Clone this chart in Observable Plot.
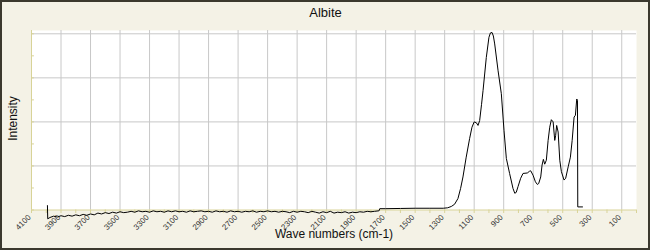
<!DOCTYPE html>
<html>
<head>
<meta charset="utf-8">
<script src="https://cdn.jsdelivr.net/npm/d3@7"></script>
<script src="https://cdn.jsdelivr.net/npm/@observablehq/plot@0.6"></script>
<style>
html, body { margin: 0; padding: 0; background: #f4f2e6; }
#chart svg { display: block; background: #f4f2e6; outline: 2px solid #3b392e; outline-offset: -2px; }
</style>
</head>
<body>
<div id="chart"></div>
<script>
const title = "Albite";
const xLabel = "Wave numbers (cm-1)";
const yLabel = "Intensity";

// x tick labels (every 200 cm-1) and gridline positions
const xTickLabels = [4100, 3900, 3700, 3500, 3300, 3100, 2900, 2700, 2500, 2300, 2100, 1900, 1700, 1500, 1300, 1100, 900, 700, 500, 300, 100];
const xGrid = [3900, 3700, 3500, 3300, 3100, 2900, 2700, 2500, 2300, 2100, 1900, 1700, 1500, 1300, 1100, 900, 700, 500, 300, 100];
const xMinorTicks = d3.range(0, 4101, 100);
const yGrid = [1, 2, 3, 4];
const yMinorTicks = [0, 0.5, 1, 1.5, 2, 2.5, 3, 3.5, 4];

// spectrum: wave numbers (cm-1) and intensity (arbitrary units)
const wavenumbers = [
  3992, 3990, 3975, 3950, 3925, 3900, 3875, 3850, 3825, 3800, 3775, 3750, 3725, 3700, 3675, 3650,
  3625, 3600, 3575, 3550, 3525, 3500, 3475, 3450, 3425, 3400, 3375, 3350, 3325, 3300, 3275, 3250,
  3225, 3200, 3175, 3150, 3125, 3100, 3075, 3050, 3025, 3000, 2975, 2950, 2925, 2900, 2875, 2850,
  2825, 2800, 2775, 2750, 2725, 2700, 2675, 2650, 2625, 2600, 2575, 2550, 2525, 2500, 2475, 2450,
  2425, 2400, 2375, 2350, 2325, 2300, 2275, 2250, 2225, 2200, 2175, 2150, 2125, 2100, 2075, 2050,
  2025, 2000, 1975, 1950, 1925, 1900, 1875, 1850, 1825, 1800, 1775, 1750, 1745, 1740, 1700, 1600,
  1500, 1400, 1310, 1280, 1255, 1233, 1210, 1192, 1176, 1154, 1131, 1115, 1100, 1085, 1074, 1063,
  1050, 1040, 1018, 1000, 990, 979, 970, 961, 938, 916, 898, 882, 860, 837, 825, 815,
  803, 785, 769, 740, 725, 717, 701, 685, 672, 663, 649, 640, 631, 622, 611, 599,
  588, 577, 565, 554, 548, 541, 531, 520, 509, 491, 480, 463, 448, 436, 423, 414,
  405, 400, 398, 366
];
const intensity = [
  0.10, -0.20, -0.17, -0.14, -0.16, -0.13, -0.15, -0.12, -0.14, -0.11, -0.13, -0.10, -0.12, -0.09, -0.11, -0.07,
  -0.09, -0.06, -0.08, -0.05, -0.07, -0.04, -0.06, -0.05, -0.03, -0.05, -0.02, -0.04, -0.03, -0.05, -0.02, -0.04,
  -0.03, -0.05, -0.02, -0.04, -0.02, -0.04, -0.03, -0.05, -0.02, -0.04, -0.03, -0.02, -0.04, -0.03, -0.05, -0.02,
  -0.04, -0.03, -0.05, -0.02, -0.04, -0.03, -0.05, -0.03, -0.04, -0.02, -0.05, -0.03, -0.04, -0.02, -0.04, -0.03,
  -0.05, -0.03, -0.04, -0.06, -0.03, -0.05, -0.03, -0.04, -0.06, -0.03, -0.05, -0.07, -0.04, -0.06, -0.03, -0.07,
  -0.05, -0.06, -0.04, -0.07, -0.05, -0.06, -0.04, -0.05, -0.03, -0.04, -0.03, -0.02, -0.02, 0.03, 0.03, 0.035,
  0.04, 0.04, 0.04, 0.05, 0.08, 0.13, 0.26, 0.49, 0.75, 1.20, 1.62, 1.88, 2.00, 1.98, 1.92, 2.03,
  2.40, 2.71, 3.46, 3.92, 4.02, 4.03, 3.95, 3.77, 3.16, 2.64, 1.81, 1.17, 0.83, 0.49, 0.38, 0.40,
  0.53, 0.72, 0.83, 0.84, 0.88, 0.89, 0.79, 0.64, 0.58, 0.60, 0.75, 1.02, 1.15, 1.04, 1.13, 1.58,
  1.88, 2.05, 2.00, 1.58, 1.69, 1.92, 1.77, 1.13, 0.87, 0.68, 0.72, 0.98, 1.20, 1.58, 2.11, 2.15,
  2.52, 2.49, 0.07, 0.07
];

const spectrum = wavenumbers.map((w, i) => ({w, v: intensity[i]}));

const axisColor = "#d8d398";
const gridColor = "#c8c8c8";

const chart = Plot.plot({
  width: 650,
  height: 250,
  marginLeft: 31,
  marginRight: 14,
  marginTop: 30,
  marginBottom: 40.5,
  style: {background: "#f4f2e6", fontFamily: "'Liberation Sans', Arial, sans-serif", overflow: "visible"},
  x: {domain: [4100, 0], axis: null},
  y: {domain: [0, 4.075], axis: null},
  marks: [
    Plot.frame({fill: "white", stroke: "none"}),
    Plot.gridX(xGrid, {stroke: gridColor, strokeOpacity: 1}),
    Plot.gridY(yGrid, {stroke: gridColor, strokeOpacity: 1}),
    Plot.ruleY([0], {stroke: axisColor}),
    Plot.ruleX([4100], {stroke: axisColor}),
    Plot.ruleY(yMinorTicks, {x1: 4100, x2: 4080, stroke: axisColor}),
    Plot.axisX(xMinorTicks, {tickSize: 3.5, stroke: axisColor, tickFormat: () => "", label: null}),
    Plot.axisX(xTickLabels, {tickSize: 0, tickRotate: -45, tickPadding: 6, dx: -2, fill: "#333", fontSize: 8, tickFormat: d => String(d), label: null}),
    Plot.line(spectrum, {x: "w", y: "v", stroke: "black", strokeWidth: 1}),
    Plot.text([title], {text: d => d, frameAnchor: "top", textAnchor: "middle", lineAnchor: "middle", dx: -8.5, dy: -17.5, fontSize: 13, fill: "#111"}),
    Plot.text([xLabel], {text: d => d, frameAnchor: "bottom", textAnchor: "middle", lineAnchor: "middle", dy: 24, fontSize: 12, fill: "#111"}),
    Plot.text([yLabel], {text: d => d, frameAnchor: "left", textAnchor: "middle", lineAnchor: "middle", rotate: -90, dx: -18.8, dy: -1.75, fontSize: 12, fill: "#111"})
  ]
});
document.getElementById("chart").append(chart);
</script>
</body>
</html>
